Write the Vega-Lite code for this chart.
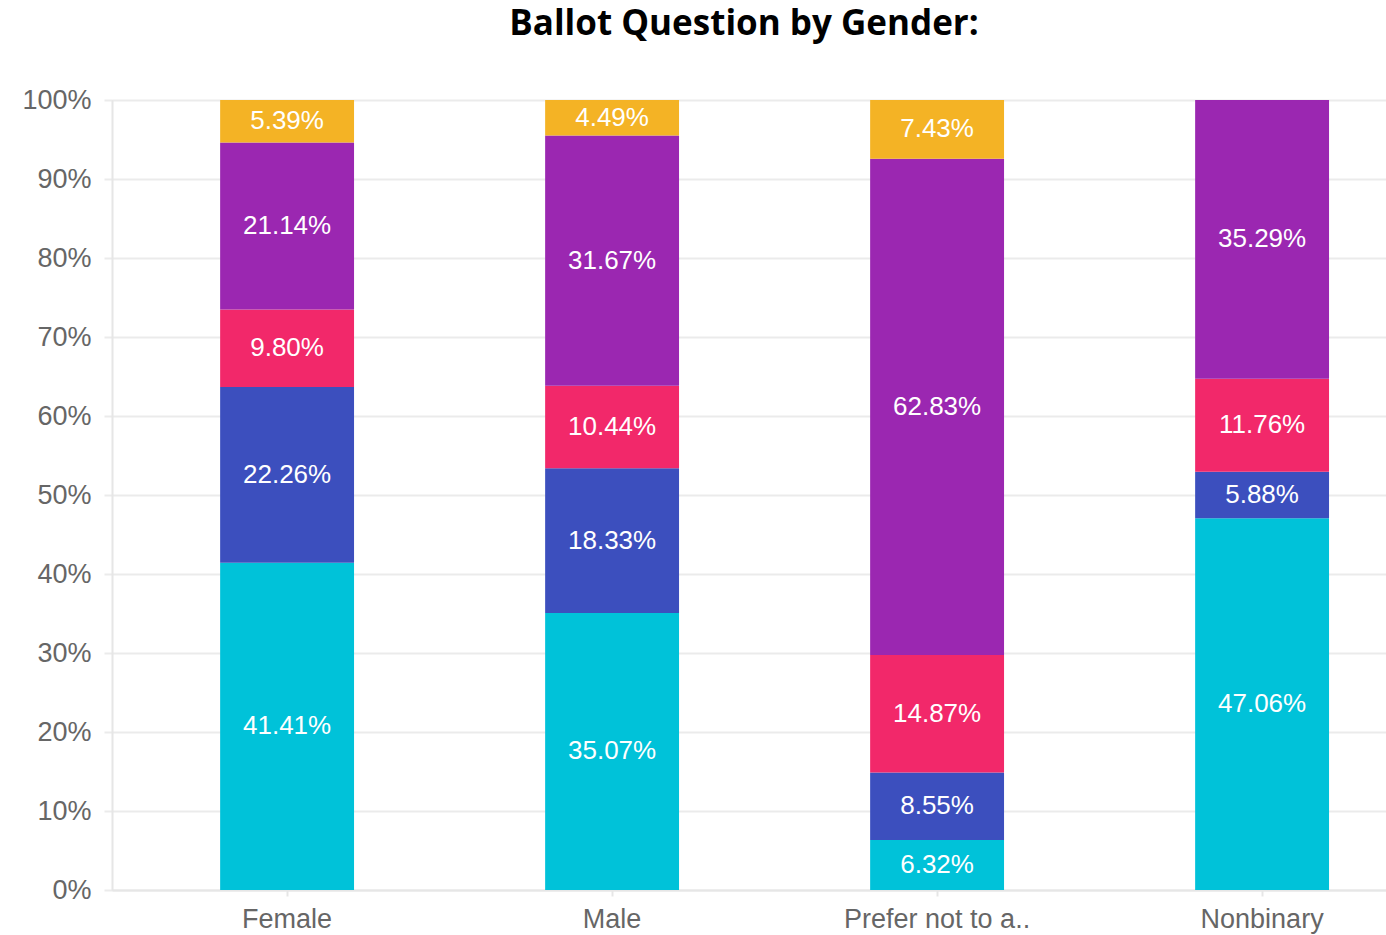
{
  "$schema": "https://vega.github.io/schema/vega-lite/v6.json",
  "autosize": "none",
  "padding": {"left": 112, "top": 100, "right": 0, "bottom": 45},
  "width": 1274,
  "height": 790,
  "background": "white",
  "title": {
    "text": "Ballot Question by Gender:",
    "font": "Open Sans",
    "fontWeight": "bold",
    "fontSize": 35,
    "color": "#000000",
    "anchor": "middle",
    "frame": "group",
    "baseline": "alphabetic",
    "offset": 16,
    "dx": -5
  },
  "data": {
    "values": [
      {"gender": "Female", "option": "Option 1", "k": 1, "share": 0.4141},
      {"gender": "Female", "option": "Option 2", "k": 2, "share": 0.2226},
      {"gender": "Female", "option": "Option 3", "k": 3, "share": 0.0980},
      {"gender": "Female", "option": "Option 4", "k": 4, "share": 0.2114},
      {"gender": "Female", "option": "Option 5", "k": 5, "share": 0.0539},
      {"gender": "Male", "option": "Option 1", "k": 1, "share": 0.3507},
      {"gender": "Male", "option": "Option 2", "k": 2, "share": 0.1833},
      {"gender": "Male", "option": "Option 3", "k": 3, "share": 0.1044},
      {"gender": "Male", "option": "Option 4", "k": 4, "share": 0.3167},
      {"gender": "Male", "option": "Option 5", "k": 5, "share": 0.0449},
      {"gender": "Prefer not to a..", "option": "Option 1", "k": 1, "share": 0.0632},
      {"gender": "Prefer not to a..", "option": "Option 2", "k": 2, "share": 0.0855},
      {"gender": "Prefer not to a..", "option": "Option 3", "k": 3, "share": 0.1487},
      {"gender": "Prefer not to a..", "option": "Option 4", "k": 4, "share": 0.6283},
      {"gender": "Prefer not to a..", "option": "Option 5", "k": 5, "share": 0.0743},
      {"gender": "Nonbinary", "option": "Option 1", "k": 1, "share": 0.4706},
      {"gender": "Nonbinary", "option": "Option 2", "k": 2, "share": 0.0588},
      {"gender": "Nonbinary", "option": "Option 3", "k": 3, "share": 0.1176},
      {"gender": "Nonbinary", "option": "Option 4", "k": 4, "share": 0.3529}
    ]
  },
  "encoding": {
    "x": {
      "field": "gender",
      "type": "nominal",
      "sort": ["Female", "Male", "Prefer not to a..", "Nonbinary"],
      "scale": {"paddingInner": 0.588, "paddingOuter": 0.254, "align": 0.655},
      "axis": {
        "title": null,
        "labelAngle": 0,
        "labelLimit": 0,
        "labelFont": "Liberation Sans",
        "labelFontSize": 27,
        "labelColor": "#666666",
        "labelPadding": 10,
        "domainColor": "#E6E6E6",
        "domainWidth": 2,
        "tickColor": "#E6E6E6",
        "tickWidth": 2,
        "tickSize": 6,
        "grid": false
      }
    },
    "order": {"field": "k", "type": "quantitative", "sort": "ascending"}
  },
  "layer": [
    {
      "mark": {"type": "bar"},
      "encoding": {
        "y": {
          "field": "share",
          "type": "quantitative",
          "stack": "zero",
          "scale": {"domain": [0, 1], "nice": false},
          "axis": {
            "title": null,
            "format": ".0%",
            "values": [0, 0.1, 0.2, 0.3, 0.4, 0.5, 0.6, 0.7, 0.8, 0.9, 1],
            "labelFont": "Liberation Sans",
            "labelFontSize": 27,
            "labelColor": "#666666",
            "labelPadding": 13,
            "gridColor": "#EBEBEB",
            "gridWidth": 2,
            "domainColor": "#E6E6E6",
            "domainWidth": 2,
            "tickColor": "#EBEBEB",
            "tickWidth": 2,
            "tickSize": 8
          }
        },
        "color": {
          "field": "option",
          "type": "nominal",
          "scale": {
            "domain": ["Option 1", "Option 2", "Option 3", "Option 4", "Option 5"],
            "range": ["#00C2D9", "#3C4FBE", "#F2286A", "#9B27B1", "#F4B325"]
          },
          "legend": null
        }
      }
    },
    {
      "mark": {"type": "text", "color": "white", "font": "Liberation Sans", "fontSize": 26, "baseline": "middle", "align": "center"},
      "encoding": {
        "y": {"field": "share", "type": "quantitative", "stack": "zero", "bandPosition": 0.5},
        "detail": {"field": "option", "type": "nominal"},
        "text": {"field": "share", "type": "quantitative", "format": ".2%"}
      }
    }
  ]
}
